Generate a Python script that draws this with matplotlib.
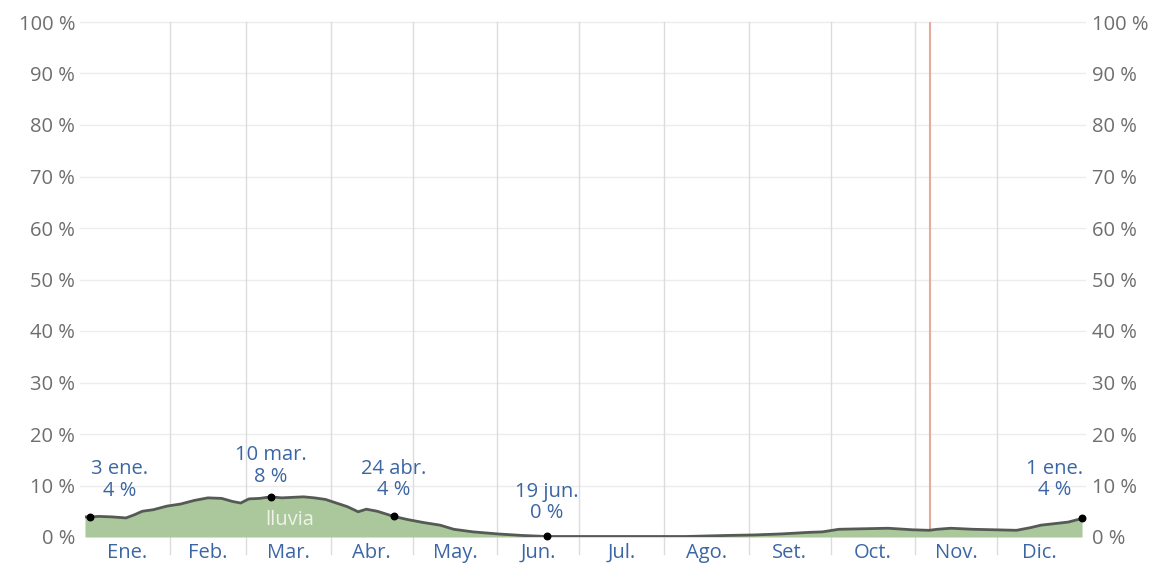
"""
Daily chance of rain over the year, shaded area with highlighted days
"""
import numpy as np
import matplotlib
matplotlib.use("Agg")
import matplotlib.pyplot as plt

plt.rcParams["font.family"] = ["Open Sans", "DejaVu Sans"]

# day of year (0 = 1 ene.) and chance of rain in percent
DAYS = [0, 2, 5, 10, 15, 18, 21, 25, 30, 35, 40, 45, 50, 54, 57, 60, 64, 68,
        72, 76, 80, 84, 88, 92, 96, 100, 103, 107, 113, 118, 124, 130, 135,
        142, 151, 160, 169, 180, 200, 220, 235, 245, 255, 265, 270, 276, 285,
        294, 303, 309, 312, 317, 325, 333, 341, 346, 350, 355, 360, 365]
RAIN = [3.9, 3.9, 4.0, 3.9, 3.7, 4.3, 5.0, 5.3, 6.0, 6.4, 7.1, 7.6, 7.5, 6.9,
        6.6, 7.4, 7.5, 7.8, 7.6, 7.7, 7.8, 7.6, 7.3, 6.6, 5.9, 4.9, 5.4, 5.0,
        4.0, 3.4, 2.8, 2.3, 1.5, 1.0, 0.6, 0.3, 0.1, 0.1, 0.1, 0.1, 0.3, 0.4,
        0.6, 0.9, 1.0, 1.5, 1.6, 1.7, 1.4, 1.3, 1.5, 1.7, 1.5, 1.4, 1.3, 1.8,
        2.3, 2.6, 2.9, 3.6]

# highlighted days
MARK_DAYS = [2, 68, 113, 169, 365]
MARK_VALS = [3.9, 7.8, 4.0, 0.1, 3.6]
MARK_DATES = ["3 ene.", "10 mar.", "24 abr.", "19 jun.", "1 ene."]
MARK_DX = [29, 0, 0, 0, -27]          # label offsets in pixels (up is positive)
MARK_DY = [37, 31, 37, 34, 39]

MONTH_START = [0, 31, 59, 90, 120, 151, 181, 212, 243, 273, 304, 334, 365]
MONTHS = ["Ene.", "Feb.", "Mar.", "Abr.", "May.", "Jun.", "Jul.", "Ago.",
          "Set.", "Oct.", "Nov.", "Dic."]
TODAY = 309.5
Y_TICKS = list(range(0, 101, 10))

BLUE = "#3c66a3"
GREY_TXT = "#6e6e6e"
FS = 14.5


def main():
    fig = plt.figure(figsize=(11.64, 5.70), dpi=100)
    ax = fig.add_axes([85 / 1164, 1 - 537 / 570, 997 / 1164, 515 / 570])
    ax.set_xlim(0, 365)
    ax.set_ylim(0, 100)
    for sp in ax.spines.values():
        sp.set_visible(False)

    # horizontal grid, running a bit past the plot edges
    for y in Y_TICKS[1:]:
        ax.plot([-2, 366], [y, y], color="#ececec", lw=1.0, zorder=0, clip_on=False)
    # month boundaries
    for d in MONTH_START[1:-1]:
        ax.plot([d, d], [-3.3, 100], color="#dcdcdc", lw=1.0, zorder=0, clip_on=False)
    ax.axvline(TODAY, color="#e6ab9b", lw=1.5, zorder=1)

    ax.fill_between(DAYS, 0, RAIN, color="#abc79c", lw=0, zorder=2)
    ax.plot(DAYS, RAIN, color="#555a55", lw=2.0, zorder=3, solid_joinstyle="round")
    ax.text(75, 3.3, "lluvia", color="#eef3ea", fontsize=FS, ha="center", va="center", zorder=4)

    ax.scatter(MARK_DAYS, MARK_VALS, s=22, color="black", zorder=5, clip_on=False)
    for d, v, lab, dx, dy in zip(MARK_DAYS, MARK_VALS, MARK_DATES, MARK_DX, MARK_DY):
        ax.annotate("{}\n{} %".format(lab, int(round(v))), xy=(d, v),
                    xytext=(dx, dy), textcoords="offset pixels",
                    ha="center", va="center", color=BLUE, fontsize=FS,
                    linespacing=1.1, zorder=6)

    # month labels centred in each month
    mids = [(a + b) / 2 for a, b in zip(MONTH_START[:-1], MONTH_START[1:])]
    ax.set_xticks(mids)
    ax.set_xticklabels(MONTHS, color=BLUE, fontsize=FS)
    ax.tick_params(axis="x", length=0, pad=4)

    ax.set_yticks(Y_TICKS)
    ax.set_yticklabels(["{} %".format(v) for v in Y_TICKS], color=GREY_TXT, fontsize=FS)
    ax.tick_params(axis="y", length=0, pad=7, labelright=True)

    fig.savefig("out.png", dpi=100)
    plt.close(fig)


if __name__ == "__main__":
    main()
